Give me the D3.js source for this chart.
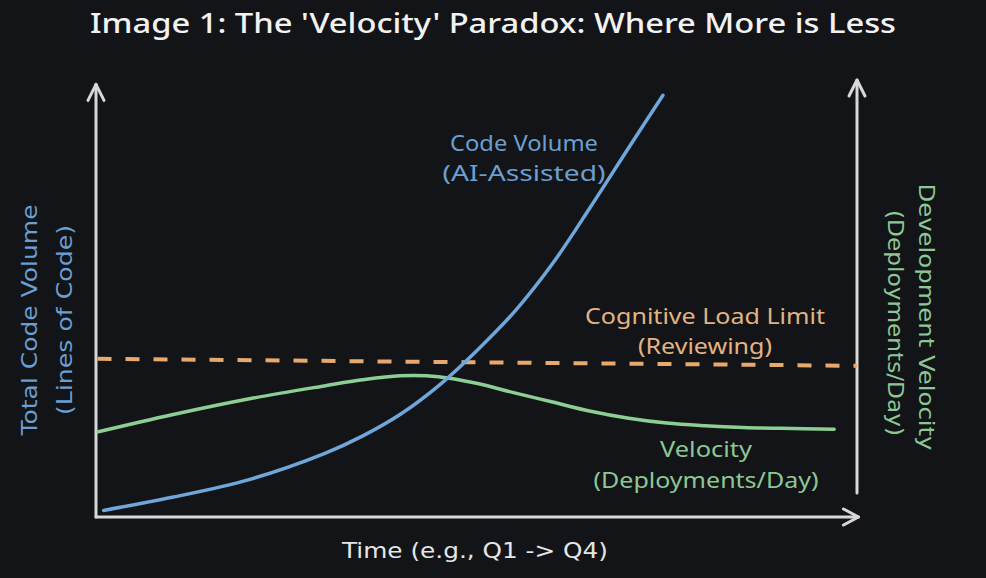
<!DOCTYPE html>
<html>
<head>
<meta charset="utf-8">
<script src="https://cdn.jsdelivr.net/npm/d3@7"></script>
<style>
  html, body { margin: 0; padding: 0; background: #131417; }
  svg { display: block; }
</style>
</head>
<body>
<div id="chart"></div>
<script>
// Velocity paradox: code volume vs. review limit vs. deployment velocity.
const timeVolume = [0.1, 1, 2, 3, 3.5, 4, 4.5, 5, 5.5, 6, 6.5, 7, 7.45];
const codeVolume = [1.5, 4.5, 8.5, 14.5, 18.5, 23.5, 30, 38, 47, 58, 71, 84.5, 96.5];

const timeVelocity = [0.03, 1, 2, 3, 3.5, 4, 4.5, 5, 5.5, 6, 6.5, 7, 7.5, 8, 8.5, 9, 9.7];
const velocity = [19.5, 23.4, 27, 30, 31.4, 32.3, 32.1, 30.6, 28.4, 26.3, 24.2, 22.6, 21.5, 20.9, 20.5, 20.3, 20.1];

const timeLimit = [0.02, 10];
const cognitiveLimit = [36.2, 34.6];

const title = "Image 1: The 'Velocity' Paradox: Where More is Less";
const leftLabel = ['Total Code Volume', '(Lines of Code)'];
const rightLabel = ['Development Velocity', '(Deployments/Day)'];
const xLabel = 'Time (e.g., Q1 -> Q4)';

const W = 986, H = 578;
const colors = { axis: '#d8d8d8', blue: '#70a7da', green: '#8ccf94', orange: '#e8a96c' };
const labelColors = { blue: '#6a9fd2', green: '#8cc794', orange: '#e3b382', text: '#e6e6e6' };
const handFont = '"Noto Sans", "Open Sans", sans-serif';
const axisFont = '"DejaVu Sans", Verdana, sans-serif';

const x = d3.scaleLinear().domain([0, 10]).range([96, 857]);
const y = d3.scaleLinear().domain([0, 100]).range([517, 80]);

const svg = d3.select('#chart').append('svg').attr('width', W).attr('height', H);
svg.append('rect').attr('width', W).attr('height', H).attr('fill', '#131417');

// -- axes (hand-drawn arrows)
const axes = svg.append('g').attr('stroke', colors.axis).attr('stroke-width', 3)
  .attr('fill', 'none').attr('stroke-linecap', 'round').attr('stroke-linejoin', 'round');
const x0 = x(0), yb = y(0), xr = x(10);
const leftTop = y(99), rightTop = y(100), rightBottom = y(5.5), xEnd = x(10.02);

axes.append('path').attr('d', `M${x0},${yb}V${leftTop}`);
axes.append('path').attr('d', `M${x0 - 8},${leftTop + 16}L${x0},${leftTop}L${x0 + 8},${leftTop + 16}`);
axes.append('path').attr('d', `M${x0},${yb}H${xEnd}`);
axes.append('path').attr('d', `M${xEnd - 15},${yb - 8}L${xEnd},${yb}L${xEnd - 15},${yb + 8}`);
axes.append('path').attr('d', `M${xr},${rightBottom}V${rightTop}`);
axes.append('path').attr('d', `M${xr - 8},${rightTop + 16}L${xr},${rightTop}L${xr + 8},${rightTop + 16}`);

// -- series
const line = d3.line().x(d => x(d[0])).y(d => y(d[1])).curve(d3.curveCatmullRom.alpha(0.5));
const zip = (a, b) => a.map((v, i) => [v, b[i]]);

svg.append('path')
  .attr('d', line(zip(timeLimit, cognitiveLimit)))
  .attr('fill', 'none').attr('stroke', colors.orange).attr('stroke-width', 4)
  .attr('stroke-dasharray', '14,14');

svg.append('path')
  .attr('d', line(zip(timeVelocity, velocity)))
  .attr('fill', 'none').attr('stroke', colors.green).attr('stroke-width', 3.5)
  .attr('stroke-linecap', 'round');

svg.append('path')
  .attr('d', line(zip(timeVolume, codeVolume)))
  .attr('fill', 'none').attr('stroke', colors.blue).attr('stroke-width', 3.5)
  .attr('stroke-linecap', 'round');

// -- text
function label(txt, px, py, opts) {
  const t = svg.append('text')
    .attr('x', px).attr('y', py)
    .attr('text-anchor', 'middle')
    .attr('font-family', opts.font || handFont)
    .attr('font-size', opts.size || 21)
    .attr('fill', opts.color)
    .text(txt);
  if (opts.len) t.attr('textLength', opts.len).attr('lengthAdjust', 'spacingAndGlyphs');
  if (opts.rotate) t.attr('transform', `rotate(${opts.rotate},${px},${py})`);
  return t;
}

label(title, 493, 33, { size: 27, color: '#f2f2f2', len: 806 }).attr('font-weight', 500);

label('Code Volume', 524, 151, { color: labelColors.blue, len: 148 });
label('(AI-Assisted)', 524, 181, { color: labelColors.blue, len: 163 });

label('Cognitive Load Limit', 705, 324, { color: labelColors.orange, len: 240 });
label('(Reviewing)', 705, 354, { color: labelColors.orange, len: 134 });

label('Velocity', 706, 457, { color: labelColors.green, len: 92 });
label('(Deployments/Day)', 706, 488, { color: labelColors.green, len: 225 });

label(xLabel, 475, 558, { font: axisFont, size: 22, color: labelColors.text, len: 266 });

label(leftLabel[0], 37, 320, { font: axisFont, size: 22, color: labelColors.blue, rotate: -90, len: 231 }).attr('font-weight', 500);
label(leftLabel[1], 72, 320, { font: axisFont, size: 22, color: labelColors.blue, rotate: -90, len: 190 }).attr('font-weight', 500);

label(rightLabel[0], 919, 317, { font: axisFont, size: 22, color: labelColors.green, rotate: 90, len: 267 });
label(rightLabel[1], 888, 323, { font: axisFont, size: 22, color: labelColors.green, rotate: 90, len: 226 });
</script>
</body>
</html>
